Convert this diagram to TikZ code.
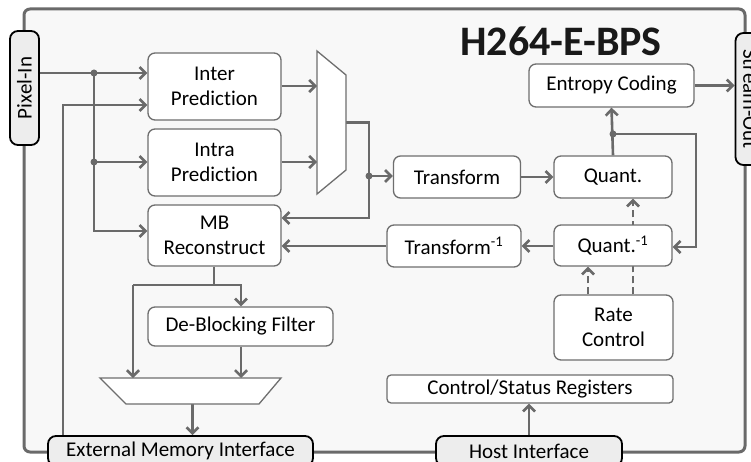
\documentclass[tikz,border=0pt]{standalone}
\usepackage{fontspec}
\setmainfont[Ligatures=NoCommon]{Carlito}
\usetikzlibrary{arrows.meta,calc}
\definecolor{ln}{HTML}{6A6A6A}
\definecolor{bd}{HTML}{6E6E6E}
\definecolor{framefill}{HTML}{F8F8F8}
\definecolor{iffill}{HTML}{EDEDED}
\pgfdeclarelayer{bg}\pgfdeclarelayer{lines}\pgfsetlayers{bg,lines,main}
\begin{document}
\begin{tikzpicture}[x=1pt,y=-1pt,
 blk/.style={draw=bd,line width=1.3pt,fill=white,rounded corners=7pt,inner sep=0pt,align=center,font=\fontsize{21}{25}\selectfont},
 iface/.style={draw=black,line width=1.8pt,fill=iffill,rounded corners=8pt,inner sep=0pt,font=\fontsize{21}{25}\selectfont},
 conn/.style={draw=ln,line width=2.6pt},
 arr/.style={conn,-{Straight Barb[length=6pt,width=12pt]}},
 darr/.style={arr,dash pattern=on 7pt off 4pt},
 dline/.style={conn,dash pattern=on 7pt off 4pt},
 dot/.style={circle,fill=ln,inner sep=0pt,minimum size=7pt},
 mux/.style={draw=bd,line width=1.3pt,fill=white}]
\useasboundingbox (0,0) rectangle (751,462);
\begin{pgfonlayer}{bg}
\draw[draw=ln,line width=3pt,fill=framefill,rounded corners=6pt] (24,9) rectangle (745,452);
\end{pgfonlayer}
% title
\node[font=\fontsize{42}{42}\bfseries\selectfont,text=black!90] (title) at (561,41) {H264-E-BPS};
% interfaces
\node[iface,rotate=90,minimum width=114pt,minimum height=29pt] (pixin) at (24.5,88) {Pixel-In};
\node[iface,rotate=-90,minimum width=132pt,minimum height=29pt] (sout) at (750,99) {Stream-Out};
\node[iface,minimum width=265pt,minimum height=30pt] (emi) at (180.5,451) {External Memory Interface};
\node[iface,minimum width=186pt,minimum height=30pt] (host) at (529,451) {Host Interface};
% blocks
\node[blk,minimum width=133pt,minimum height=67pt] (inter) at (214.5,86.5) {Inter\\Prediction};
\node[blk,minimum width=133pt,minimum height=67pt] (intra) at (214.5,162.5) {Intra\\Prediction};
\node[blk,minimum width=133pt,minimum height=61pt] (mb) at (214.5,235.5) {MB\\Reconstruct};
\node[blk,minimum width=127pt,minimum height=42pt] (trans) at (457,177) {Transform};
\node[blk,minimum width=118pt,minimum height=42pt] (quant) at (613,177) {Quant.};
\node[blk,minimum width=165pt,minimum height=43pt] (entropy) at (611.5,85.5) {Entropy Coding};
\node[blk,minimum width=134pt,minimum height=42pt] (itrans) at (454,246) {Transform\textsuperscript{-1}};
\node[blk,minimum width=118pt,minimum height=41pt] (iquant) at (613,245.5) {Quant.\textsuperscript{-1}};
\node[blk,minimum width=119pt,minimum height=65pt] (rate) at (613.5,327.5) {Rate\\Control};
\node[blk,rounded corners=4pt,minimum width=286pt,minimum height=28pt] (csr) at (530,389) {Control/Status Registers};
\node[blk,minimum width=185pt,minimum height=39pt] (dbf) at (240.5,326.5) {De-Blocking Filter};
% muxes
\coordinate (m1a) at (317,51); \coordinate (m1b) at (346,75);
\coordinate (m1c) at (346,170); \coordinate (m1d) at (317,194);
\draw[mux] (m1a) -- (m1b) -- (m1c) -- (m1d) -- cycle;
\coordinate (m2a) at (100,378); \coordinate (m2b) at (281,378);
\coordinate (m2c) at (259,404); \coordinate (m2d) at (126,404);
\draw[mux] (m2a) -- (m2b) -- (m2c) -- (m2d) -- cycle;
% junctions
\coordinate (j1) at (94,73);
\coordinate (j2) at (94,162);
\coordinate (j3) at (369,176);
\coordinate (j4) at (613,134);
\coordinate (fb) at (63,105);
\coordinate (m1o) at ($(m1b)!0.5!(m1c)$);
\coordinate (mbsplit) at (214,285);
\begin{pgfonlayer}{lines}
\draw[arr] (pixin.south |- j1) -- (inter.west |- j1);
\draw[arr] (j1) |- (mb.west |- 94,231);
\draw[arr] (j2) -- (intra.west |- j2);
\draw[arr] (emi.north -| fb) |- (inter.west |- fb);
\draw[arr] (inter.east |- 0,86) -- (m1a |- 0,86);
\draw[arr] (intra.east |- 0,162) -- (m1a |- 0,162);
\draw[arr] (m1o) -| (j3) |- (mb.east |- 0,218);
\draw[arr] (j3) -- (trans.west |- j3);
\draw[arr] (trans.east) -- (quant.west);
\draw[arr] (quant.north) -- (entropy.south);
\draw[arr] (j4) -| (696,247) -- (iquant.east |- 0,247);
\draw[arr] (entropy.east) -- (sout.south |- entropy.east);
\draw[arr] (iquant.west |- 0,246) -- (itrans.east |- 0,246);
\draw[arr] (itrans.west |- 0,246) -- (mb.east |- 0,246);
\draw[darr] (rate.north -| 588,0) -- (iquant.south -| 588,0);
\draw[darr] (rate.north -| 633,0) -- (quant.south -| 633,0);
\draw[conn] (mb.south -| mbsplit) -- (mbsplit);
\draw[arr] (133,285) -- (241,285) -- (dbf.north -| 241,0);
\draw[arr] (133,285) -- (m2a -| 133,0);
\draw[arr] (dbf.south -| 241,0) -- (m2a -| 241,0);
\draw[arr] ($(m2c)!0.5!(m2d)$) -- (emi.north -| 192.5,0);
\draw[arr] (host.north) -- (csr.south -| host.north);
\end{pgfonlayer}
\draw[dline] (rate.north -| 633,0) -- (iquant.south -| 633,0);
\node[dot] at (j1) {};
\node[dot] at (j2) {};
\node[dot] at (j3) {};
\node[dot] at (j4) {};
\end{tikzpicture}
\end{document}
